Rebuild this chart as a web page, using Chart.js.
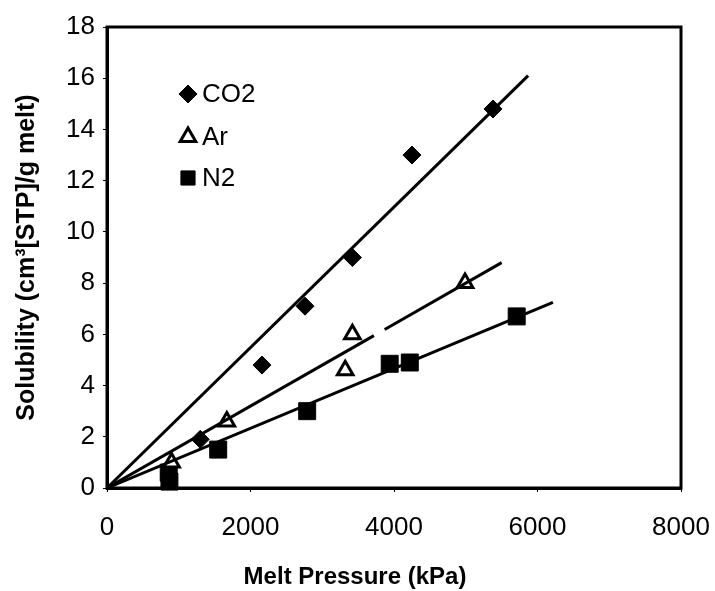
<!DOCTYPE html>
<html>
<head>
<meta charset="utf-8">
<script src="https://cdn.jsdelivr.net/npm/chart.js@4.4.1/dist/chart.umd.min.js"></script>
<style>
  html, body { margin: 0; padding: 0; background: #fff; }
</style>
</head>
<body>
<canvas id="solubilityChart" width="715" height="591"></canvas>
<script>
// ===== DATA =====
const co2Pressure = [1300, 2160, 2760, 3420, 4250, 5380];
const co2Solubility = [1.9, 4.8, 7.1, 9.0, 13.0, 14.8];

const arPressure = [900, 1670, 3320, 3420, 4990];
const arSolubility = [1.0, 2.6, 4.6, 6.0, 8.0];

const n2Pressure = [860, 870, 1550, 2790, 3940, 4220, 5710];
const n2Solubility = [0.6, 0.25, 1.5, 3.0, 4.85, 4.9, 6.7];

// fit lines (Ar line has a small break)
const co2FitX = [0, 5870];
const co2FitY = [0, 16.1];
const arFitX = [0, 3720, 3870, 5500];
const arFitY = [0, 5.95, 6.19, 8.8];
const n2FitX = [0, 6215];
const n2FitY = [0, 7.25];

const xTicks = [0, 2000, 4000, 6000, 8000];
const yTicks = [0, 2, 4, 6, 8, 10, 12, 14, 16, 18];

const seriesNames = ["CO2", "Ar", "N2"];
const xTitle = "Melt Pressure (kPa)";
const yTitle = "Solubility (cm³[STP]/g melt)";

const toPoints = (xs, ys) => xs.map((x, i) => ({ x: x, y: ys[i] }));

// ===== PLUGINS =====
const FONT = "'Liberation Sans', Arial, sans-serif";

const framePlugin = {
  id: "frame",
  afterDatasetsDraw(chart) {
    const { ctx, chartArea: a } = chart;
    ctx.save();
    ctx.strokeStyle = "#000";
    ctx.lineWidth = 3;
    ctx.strokeRect(a.left, a.top, a.right - a.left, a.bottom - a.top);
    ctx.restore();
  }
};

// x title sits left of centre in the original, so it is drawn here
const xTitlePlugin = {
  id: "xTitle",
  afterDraw(chart) {
    const ctx = chart.ctx;
    ctx.save();
    ctx.fillStyle = "#000";
    ctx.font = "bold 24px " + FONT;
    ctx.textAlign = "center";
    ctx.textBaseline = "middle";
    ctx.fillText(xTitle, 355, 577);
    ctx.restore();
  }
};

const insideLegend = {
  id: "insideLegend",
  afterDraw(chart) {
    const ctx = chart.ctx;
    const rows = [
      { ds: chart.data.datasets[3], y: 94 },
      { ds: chart.data.datasets[4], y: 137 },
      { ds: chart.data.datasets[5], y: 178 }
    ];
    ctx.save();
    rows.forEach(r => {
      ctx.fillStyle = r.ds.backgroundColor;
      ctx.strokeStyle = r.ds.borderColor;
      ctx.lineWidth = r.ds.borderWidth;
      Chart.helpers.drawPoint(ctx, {
        pointStyle: r.ds.pointStyle,
        radius: r.ds.pointStyle === "rect" ? 10 : r.ds.pointRadius,
        rotation: 0,
        borderWidth: r.ds.borderWidth
      }, 188, r.y);
      ctx.fillStyle = "#000";
      ctx.font = "26px " + FONT;
      ctx.textBaseline = "middle";
      ctx.textAlign = "left";
      ctx.fillText(r.ds.label, 202, r.y + 1);
    });
    ctx.restore();
  }
};

// ===== CHART =====
const lineStyle = {
  type: "line",
  borderColor: "#000",
  borderWidth: 3,
  pointRadius: 0,
  fill: false,
  tension: 0
};

new Chart(document.getElementById("solubilityChart"), {
  type: "scatter",
  data: {
    datasets: [
      Object.assign({ label: "co2 fit", data: toPoints(co2FitX, co2FitY) }, lineStyle),
      Object.assign({
        label: "ar fit",
        data: toPoints(arFitX, arFitY),
        segment: { borderColor: c => c.p0DataIndex === 1 ? "rgba(0,0,0,0)" : "#000" }
      }, lineStyle),
      Object.assign({ label: "n2 fit", data: toPoints(n2FitX, n2FitY) }, lineStyle),
      {
        label: seriesNames[0],
        data: toPoints(co2Pressure, co2Solubility),
        pointStyle: "rectRot",
        pointRadius: 9,
        backgroundColor: "#000",
        borderColor: "#000",
        borderWidth: 1
      },
      {
        label: seriesNames[1],
        data: toPoints(arPressure, arSolubility),
        pointStyle: "triangle",
        pointRadius: 9,
        backgroundColor: "#fff",
        borderColor: "#000",
        borderWidth: 3
      },
      {
        label: seriesNames[2],
        data: toPoints(n2Pressure, n2Solubility),
        pointStyle: "rect",
        pointRadius: 12,
        backgroundColor: "#000",
        borderColor: "#000",
        borderWidth: 1,
        clip: false
      }
    ]
  },
  options: {
    responsive: false,
    animation: false,
    layout: { padding: { top: 27, right: 34, left: 0, bottom: 0 } },
    plugins: {
      legend: { display: false },
      tooltip: { enabled: false }
    },
    scales: {
      x: {
        type: "linear",
        min: 0,
        max: 8000,
        afterBuildTicks: axis => { axis.ticks = xTicks.map(v => ({ value: v })); },
        afterFit: scale => {
          scale.height = 103;
          scale.paddingLeft = 0;
          scale.paddingRight = 0;
        },
        grid: { drawOnChartArea: false, tickLength: 4, color: "#000" },
        border: { color: "#000", width: 3 },
        ticks: {
          color: "#000",
          padding: 20,
          maxRotation: 0,
          font: { family: FONT, size: 26 },
          callback: v => String(v)
        },
        title: { display: false }
      },
      y: {
        type: "linear",
        min: 0,
        max: 18,
        afterBuildTicks: axis => { axis.ticks = yTicks.map(v => ({ value: v })); },
        afterFit: scale => { scale.width = 107; },
        grid: { drawOnChartArea: false, tickLength: 4, color: "#000" },
        border: { color: "#000", width: 3 },
        ticks: {
          color: "#000",
          padding: 8,
          font: { family: FONT, size: 26 },
          callback: v => String(v)
        },
        title: {
          display: true,
          text: yTitle,
          color: "#000",
          font: { family: FONT, size: 25, weight: "bold" },
          padding: { top: 12, bottom: 4 }
        }
      }
    }
  },
  plugins: [framePlugin, insideLegend, xTitlePlugin]
});
</script>
</body>
</html>
